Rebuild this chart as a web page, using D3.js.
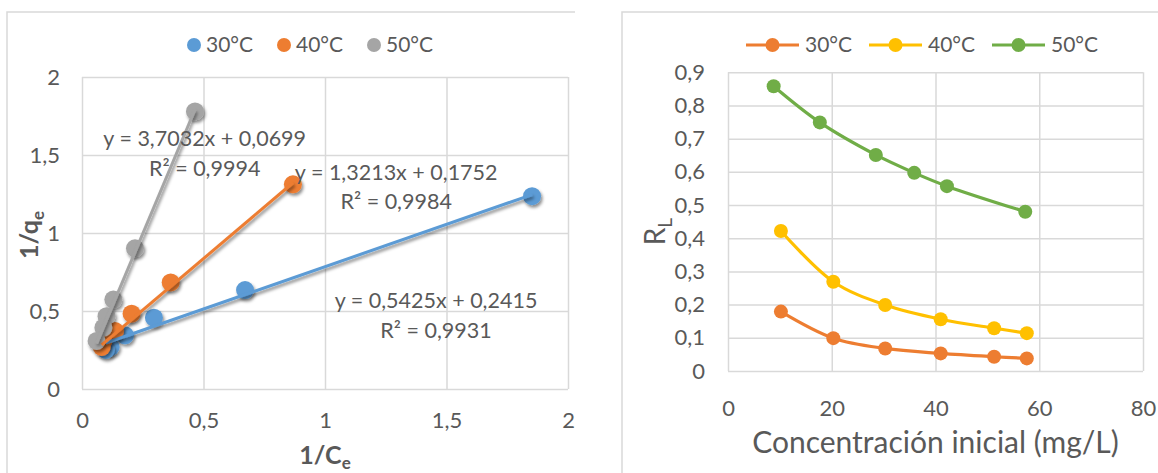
<!DOCTYPE html>
<html><head><meta charset="utf-8">
<script src="https://cdn.jsdelivr.net/npm/d3@7"></script>
<style>
body{margin:0;background:#fff}
svg{display:block}
text{font-family:Lato,"Noto Sans",sans-serif;fill:#595959}
</style>
</head><body>
<svg id="c" width="1158" height="473"></svg>
<script>
// ---------------- DATA ----------------
const seriesNames = ["30°C", "40°C", "50°C"];
// Left chart: x = 1/Ce, y = 1/qe
const invCe30 = [1.852, 0.671, 0.296, 0.177, 0.118, 0.098];
const invQe30 = [1.236, 0.634, 0.457, 0.344, 0.270, 0.250];
const invCe40 = [0.868, 0.365, 0.204, 0.136, 0.088, 0.081];
const invQe40 = [1.312, 0.683, 0.483, 0.371, 0.308, 0.270];
const invCe50 = [0.465, 0.218, 0.129, 0.101, 0.088, 0.060];
const invQe50 = [1.779, 0.902, 0.573, 0.467, 0.393, 0.308];
const slopes = [0.5425, 1.3213, 3.7032];
const intercepts = [0.2415, 0.1752, 0.0699];
const rSquared = [0.9931, 0.9984, 0.9994];
const leftXTicks = [0, 0.5, 1, 1.5, 2];
const leftYTicks = [0, 0.5, 1, 1.5, 2];
// Right chart: RL vs initial concentration
const conc30 = [10.2, 20.3, 30.3, 41.0, 51.3, 57.6];
const conc40 = [10.2, 20.3, 30.3, 41.0, 51.3, 57.6];
const conc50 = [8.8, 17.7, 28.5, 35.9, 42.2, 57.3];
const rl30 = [0.179, 0.099, 0.068, 0.053, 0.043, 0.038];
const rl40 = [0.422, 0.269, 0.199, 0.156, 0.129, 0.114];
const rl50 = [0.858, 0.749, 0.651, 0.597, 0.557, 0.480];
const rightXTicks = [0, 20, 40, 60, 80];
const rightYTicks = [0, 0.1, 0.2, 0.3, 0.4, 0.5, 0.6, 0.7, 0.8, 0.9];

// ---------------- STYLE ----------------
const leftColors = ["#5B9BD5", "#ED7D31", "#A5A5A5"];
const rightColors = ["#ED7D31", "#FFC000", "#70AD47"];
const gridColor = "#d9d9d9";
const comma = v => String(v).replace(".", ",");
const f4 = v => d3.format(".4f")(v).replace(".", ",");

const svg = d3.select("#c");
const defs = svg.append("defs");
const flt = defs.append("filter").attr("id", "sh").attr("x", "-50%").attr("y", "-50%").attr("width", "200%").attr("height", "200%");
flt.append("feDropShadow").attr("dx", 1.5).attr("dy", 2.5).attr("stdDeviation", 1.8)
  .attr("flood-color", "#000").attr("flood-opacity", 0.45);

// chart borders
svg.append("path").attr("d", "M7,473V12H575").attr("fill", "none").attr("stroke", gridColor).attr("stroke-width", 1.5);
svg.append("path").attr("d", "M622,473V12H1158").attr("fill", "none").attr("stroke", gridColor).attr("stroke-width", 1.5);

function styleGrid(g) {
  g.select(".domain").remove();
  g.selectAll("line").attr("stroke", gridColor).attr("stroke-width", 1.5);
  g.selectAll("text").remove();
}
function styleLabels(g, size) {
  g.select(".domain").remove();
  g.selectAll("line").remove();
  g.selectAll("text").attr("font-size", size).attr("fill", "#595959").attr("font-family", "Lato");
}

// ================= LEFT CHART =================
const lx = d3.scaleLinear().domain([0, 2]).range([82, 568]);
const ly = d3.scaleLinear().domain([0, 2]).range([389, 77]);
const L = svg.append("g");

L.append("g").attr("transform", `translate(0,${ly(0)})`)
  .call(d3.axisBottom(lx).tickValues(leftXTicks).tickSize(-(ly(0) - ly(2)))).call(styleGrid);
L.append("g").attr("transform", `translate(${lx(0)},0)`)
  .call(d3.axisLeft(ly).tickValues(leftYTicks).tickSize(-(lx(2) - lx(0)))).call(styleGrid);

L.append("g").attr("transform", `translate(0,${ly(0)})`)
  .call(d3.axisBottom(lx).tickValues(leftXTicks).tickSize(0).tickPadding(23).tickFormat(comma))
  .call(g => styleLabels(g, 22));
L.append("g").attr("transform", `translate(${lx(0)},0)`)
  .call(d3.axisLeft(ly).tickValues(leftYTicks).tickSize(0).tickPadding(22).tickFormat(comma))
  .call(g => styleLabels(g, 22));

const leftSeries = [
  {xs: invCe30, ys: invQe30},
  {xs: invCe40, ys: invQe40},
  {xs: invCe50, ys: invQe50}
];
leftSeries.forEach((s, i) => {
  const pts = s.xs.map((x, j) => [x, s.ys[j]]);
  L.append("g").selectAll("circle").data(pts).join("circle")
    .attr("cx", d => lx(d[0])).attr("cy", d => ly(d[1])).attr("r", 9)
    .attr("fill", leftColors[i]).attr("filter", "url(#sh)");
});
leftSeries.forEach((s, i) => {
  const [x0, x1] = d3.extent(s.xs);
  const line = d3.line().x(d => lx(d)).y(d => ly(slopes[i] * d + intercepts[i]));
  L.append("path").attr("d", line([x0, x1])).attr("fill", "none")
    .attr("stroke", leftColors[i]).attr("stroke-width", 3).attr("filter", "url(#sh)");
});

// trendline equation labels (anchor positions in data units)
const eqAnchors = [[1.457, 0.565], [1.293, 1.390], [0.505, 1.605]];
eqAnchors.forEach((a, i) => {
  L.append("text").attr("text-anchor", "middle").attr("font-size", 21.5)
    .attr("x", lx(a[0])).attr("y", ly(a[1])).attr("dy", "0.35em")
    .text(`y = ${f4(slopes[i])}x + ${f4(intercepts[i])}`);
  L.append("text").attr("text-anchor", "middle").attr("font-size", 21.5)
    .attr("x", lx(a[0])).attr("y", ly(a[1]) + 29.5).attr("dy", "0.35em")
    .text("R² = " + f4(rSquared[i]));
});

// legend
seriesNames.forEach((n, i) => {
  const x0 = 194 + i * 90;
  L.append("circle").attr("cx", x0).attr("cy", 45).attr("r", 7).attr("fill", leftColors[i]);
  L.append("text").attr("x", x0 + 12).attr("y", 45).attr("dy", "0.35em").attr("font-size", 21).text(n);
});

// axis titles
const lxt = L.append("text").attr("text-anchor", "middle").attr("font-weight", "bold").attr("font-size", 25)
  .attr("x", (lx(0) + lx(2)) / 2 ).attr("y", 464);
lxt.append("tspan").text("1/C");
lxt.append("tspan").attr("font-size", 17).attr("dy", 5).text("e");

const lyt = L.append("text").attr("text-anchor", "middle").attr("font-weight", "bold").attr("font-size", 25)
  .attr("transform", `translate(38,${(ly(0) + ly(2)) / 2 + 2}) rotate(-90)`);
lyt.append("tspan").text("1/q");
lyt.append("tspan").attr("font-size", 17).attr("dy", 6).text("e");

// ================= RIGHT CHART =================
const rx = d3.scaleLinear().domain([0, 80]).range([728, 1143]);
const ry = d3.scaleLinear().domain([0, 0.9]).range([371, 72.3]);
const R = svg.append("g");

R.append("g").attr("transform", `translate(0,${ry(0)})`)
  .call(d3.axisBottom(rx).tickValues(rightXTicks).tickSize(-(ry(0) - ry(0.9)))).call(styleGrid);
R.append("g").attr("transform", `translate(${rx(0)},0)`)
  .call(d3.axisLeft(ry).tickValues(rightYTicks).tickSize(-(rx(80) - rx(0)))).call(styleGrid);

R.append("g").attr("transform", `translate(0,${ry(0)})`)
  .call(d3.axisBottom(rx).tickValues(rightXTicks).tickSize(0).tickPadding(29).tickFormat(comma))
  .call(g => styleLabels(g, 22));
R.append("g").attr("transform", `translate(${rx(0)},0)`)
  .call(d3.axisLeft(ry).tickValues(rightYTicks).tickSize(0).tickPadding(23).tickFormat(comma))
  .call(g => styleLabels(g, 22));

const rightSeries = [
  {xs: conc30, ys: rl30},
  {xs: conc40, ys: rl40},
  {xs: conc50, ys: rl50}
];
const rline = d3.line().x(d => rx(d[0])).y(d => ry(d[1])).curve(d3.curveCatmullRom.alpha(0.5));
rightSeries.forEach((s, i) => {
  const pts = s.xs.map((x, j) => [x, s.ys[j]]);
  R.append("path").attr("d", rline(pts)).attr("fill", "none")
    .attr("stroke", rightColors[i]).attr("stroke-width", 3.2);
  R.append("g").selectAll("circle").data(pts).join("circle")
    .attr("cx", d => rx(d[0])).attr("cy", d => ry(d[1])).attr("r", 7)
    .attr("fill", rightColors[i]);
});

// legend
seriesNames.forEach((n, i) => {
  const x0 = 746 + i * 123;
  R.append("line").attr("x1", x0).attr("x2", x0 + 53).attr("y1", 45).attr("y2", 45)
    .attr("stroke", rightColors[i]).attr("stroke-width", 3.2);
  R.append("circle").attr("cx", x0 + 26.5).attr("cy", 45).attr("r", 7).attr("fill", rightColors[i]);
  R.append("text").attr("x", x0 + 59).attr("y", 45).attr("dy", "0.35em").attr("font-size", 21).text(n);
});

// axis titles
R.append("text").attr("text-anchor", "middle").attr("font-size", 30)
  .attr("x", (rx(0) + rx(80)) / 2).attr("y", 453).text("Concentración inicial (mg/L)");
const ryt = R.append("text").attr("text-anchor", "middle").attr("font-size", 28)
  .attr("transform", `translate(665,${(ry(0) + ry(0.9)) / 2 + 10}) rotate(-90)`);
ryt.append("tspan").text("R");
ryt.append("tspan").attr("font-size", 19).attr("dy", 7).text("L");
</script>
</body></html>
